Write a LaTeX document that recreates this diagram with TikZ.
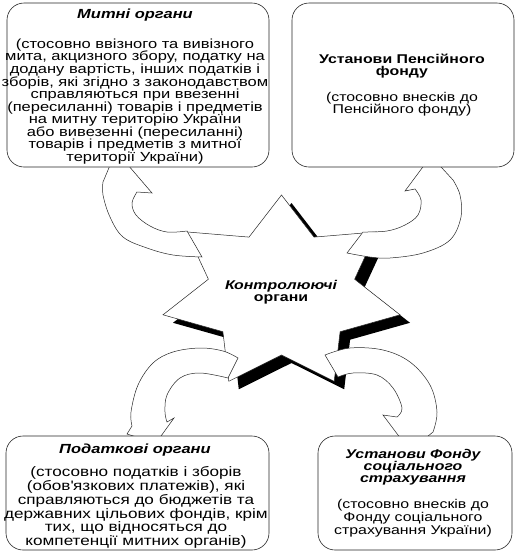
\documentclass[tikz,border=0pt]{standalone}
\usepackage{fontspec}
\setmainfont{Liberation Sans}[FakeStretch=1.25]
\begin{document}
\begin{tikzpicture}[x=1pt,y=-1pt,
  box/.style={draw=black!85, line width=0.6pt, rounded corners=17pt, fill=white, inner sep=0pt},
  barrow/.style={draw=black!85, line width=0.5pt, fill=white, line join=miter},
  starline/.style={draw=black!85, line width=0.5pt, fill=white},
  ttl/.style={font=\bfseries\itshape\fontsize{13.2}{12.5}\selectfont, align=center, inner sep=0pt},
  ttlup/.style={font=\bfseries\fontsize{12.7}{12.2}\selectfont, align=center, inner sep=0pt},
  body/.style={font=\fontsize{12.7}{12.56}\selectfont, align=center, inner sep=0pt}]
\useasboundingbox (0,0) rectangle (518,555);
% shadow of the star
\fill[black, shift={(10,8)}] (281.5,195) -- (314,237.1) -- (376.5,231.9) -- (354.6,279.2) -- (400,314.8) -- (340.1,331.7) -- (334.2,381.3) -- (281.5,355) -- (228.8,381.3) -- (222.9,331.7) -- (163,314.8) -- (208.4,279.2) -- (186.5,231.9) -- (249,237.1) -- cycle;
% star
\draw[starline] (281.5,195) -- (314,237.1) -- (376.5,231.9) -- (354.6,279.2) -- (400,314.8) -- (340.1,331.7) -- (334.2,381.3) -- (281.5,355) -- (228.8,381.3) -- (222.9,331.7) -- (163,314.8) -- (208.4,279.2) -- (186.5,231.9) -- (249,237.1) -- cycle;
\node[inner sep=0pt, align=center] (ctrl) at (281,292) {{\bfseries\itshape\fontsize{12.7}{15}\selectfont Контролюючі}\\{\bfseries\fontsize{12.7}{15}\selectfont органи}};
% curved block arrows
\draw[barrow] plot[smooth, tension=0.6] coordinates {(202,257) (173,255) (147,248) (123,237) (110,217) (103,195) (103,182)} -- (116,151) -- (152,193) -- (137,192) -- plot[smooth, tension=0.6] coordinates {(137,192) (132,203) (136,215) (150,226) (167,232) (187,231)} -- cycle;
\draw[barrow] plot[smooth, tension=0.6] coordinates {(347,253) (370,257) (390,258) (423,253) (450,240) (461,217) (460,195) (453,180)} -- (431,156) -- (405,191) -- (415,189) -- plot[smooth, tension=0.6] coordinates {(415,189) (421,200) (418,215) (405,225) (387,231) (363,232)} -- cycle;
\draw[barrow] plot[smooth, tension=0.6] coordinates {(238,358) (223,351) (200,348) (173,352) (153,363) (138,385) (131,412) (132,426)} -- (127,434) -- (156,443) -- (174,418) -- (167,422) -- plot[smooth, tension=0.6] coordinates {(167,422) (165,412) (167,395) (180,378) (200,373) (228,378)} -- cycle;
\draw[barrow] plot[smooth, tension=0.6] coordinates {(325,355) (350,348) (383,350) (410,362) (430,385) (437,412) (433,432)} -- (410,451) -- (383,415) -- (397,417) -- plot[smooth, tension=0.6] coordinates {(397,417) (402,408) (393,388) (377,375) (353,373) (338,377)} -- cycle;
% boxes
\node[box, minimum width=262pt, minimum height=164pt] (tl) at (138,85) {};
\node[box, minimum width=222pt, minimum height=164pt] (tr) at (403,85) {};
\node[box, minimum width=263pt, minimum height=114pt] (bl) at (137.5,493) {};
\node[box, minimum width=194pt, minimum height=114pt] (br) at (415,493) {};
% texts
\node[ttl] (tlt) at (135,15) {Митні органи};
\node[body, font=\fontsize{13.2}{12.56}\selectfont] (tlb) at (135,101.5) {(стосовно ввізного та вивізного\\мита, акцизного збору, податку на\\додану вартість, інших податків і\\зборів, які згідно з законодавством\\справляються при ввезенні\\(пересиланні) товарів і предметів\\на митну територію України\\або вивезенні (пересиланні)\\товарів і предметів з митної\\території України)};
\node[ttlup] (trt) at (402,66) {Установи Пенсійного\\фонду};
\node[body] (trb) at (402,104) {(стосовно внесків до\\Пенсійного фонду)};
\node[ttl] (blt) at (135,450) {Податкові органи};
\node[body, font=\fontsize{13.7}{11.8}\selectfont] (blb) at (136,507.5) {(стосовно податків і зборів\\(обов\textquotesingle язкових платежів), які\\справляються до бюджетів та\\державних цільових фондів, крім\\тих, що відносяться до\\компетенції митних органів)};
\node[ttl, font=\bfseries\itshape\fontsize{12.7}{12}\selectfont] (brt) at (413,467) {Установи Фонду\\соціального\\страхування};
\node[body, font=\fontsize{12.7}{11.5}\selectfont] (brb) at (413,518.5) {(стосовно внесків до\\Фонду соціального\\страхування України)};
\end{tikzpicture}
\end{document}
